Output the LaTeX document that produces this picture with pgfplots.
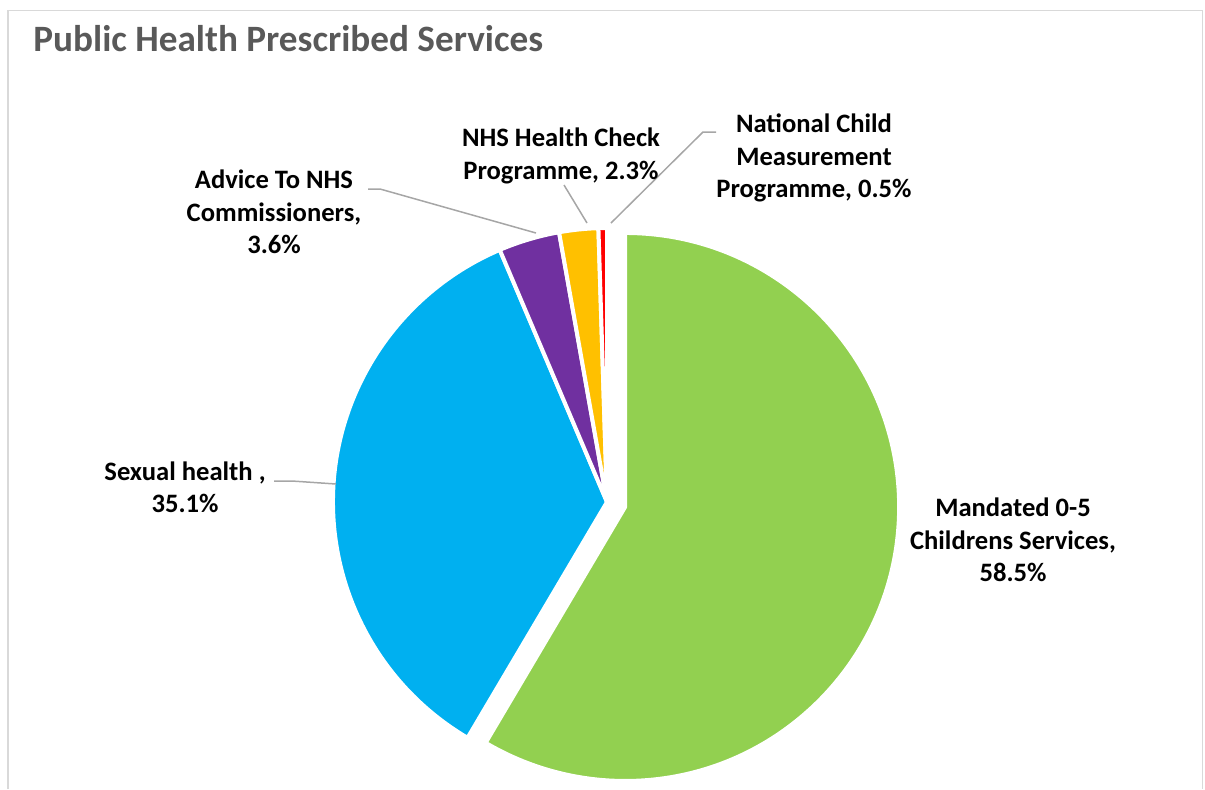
\documentclass[border=0pt]{standalone}
\usepackage{fontspec}
\setmainfont{Carlito}
\usepackage{pgfplots}
\usepackage{pgfplotstable}
\pgfplotsset{compat=1.18}
\definecolor{pgreen}{HTML}{92D050}
\definecolor{pblue}{HTML}{00B0F0}
\definecolor{ppurple}{HTML}{7030A0}
\definecolor{porange}{HTML}{FFC000}
\definecolor{pred}{HTML}{FF0000}
\definecolor{titlegray}{HTML}{595959}
\definecolor{leadergray}{HTML}{A6A6A6}
\definecolor{framegray}{HTML}{D9D9D9}
% share (%)  colour  explosion (px)
\pgfplotstableread{
value col expl
58.5 pgreen 18.8
35.1 pblue 0
3.6 ppurple 0
2.3 porange 0
0.5 pred 0
}\piedata
\begin{document}
\begin{tikzpicture}
\begin{axis}[
  x=0.5pt, y=0.5pt,
  xmin=0, xmax=1205, ymin=0, ymax=789,
  y dir=reverse,
  hide axis, clip=false,
]
% picture extent
\path (axis cs:0,0) rectangle (axis cs:1205,789);
% frame
\draw[overlay, framegray, line width=0.75pt] (axis cs:8,789) -- (axis cs:8,10.5) -- (axis cs:1202.5,10.5) -- (axis cs:1202.5,789);
% title
\node[overlay, anchor=base west, inner sep=0pt, text=titlegray, font=\fontsize{18.6}{22}\selectfont\bfseries] at (axis cs:33,51) {Public Health Prescribed Services};
% pie slices
\def\cx{607}\def\cy{502}\gdef\astart{90}
\pgfplotsinvokeforeach{0,1,2,3,4}{%
  \pgfplotstablegetelem{#1}{value}\of\piedata \let\v\pgfplotsretval
  \pgfplotstablegetelem{#1}{col}\of\piedata \let\c\pgfplotsretval
  \pgfplotstablegetelem{#1}{expl}\of\piedata \let\e\pgfplotsretval
  \pgfmathsetmacro\aend{\astart-3.6*\v}%
  \pgfmathsetmacro\amid{(\astart+\aend)/2}%
  \pgfmathsetmacro\ox{\cx+\e*cos(\amid)}%
  \pgfmathsetmacro\oy{\cy-\e*sin(\amid)}%
  \edef\slice{\noexpand\fill[overlay, \c, draw=white, line width=2pt, line join=round] (axis cs:\ox,\oy) -- ++(\astart:137pt) arc[start angle=\astart, end angle=\aend, radius=137pt] -- cycle;}%
  \slice
  \global\let\astart\aend
}
% leader lines
\begin{scope}[overlay, leadergray, line width=0.75pt]
\draw (axis cs:274,481) -- (axis cs:292,481) -- (axis cs:336,484);
\draw (axis cs:368,189) -- (axis cs:380,189) -- (axis cs:536,233);
\draw (axis cs:564,185) -- (axis cs:587,223);
\draw (axis cs:716,132) -- (axis cs:703,132) -- (axis cs:611,223);
\end{scope}
% labels
\tikzset{lbl/.style={overlay, align=center, inner sep=0pt, font=\fontsize{13.3}{16.2}\selectfont\bfseries}}
\node[lbl] at (axis cs:1013,540) {Mandated 0-5\\Childrens Services,\\58.5\%};
\node[lbl] at (axis cs:185,487) {Sexual health ,\\35.1\%};
\node[lbl] at (axis cs:274,212) {Advice To NHS\\Commissioners,\\3.6\%};
\node[lbl] at (axis cs:561,156) {NHS Health Check\\Programme, 2.3\%};
\node[lbl] at (axis cs:814,158) {National Child\\Measurement\\Programme, 0.5\%};
\end{axis}
\end{tikzpicture}
\end{document}
